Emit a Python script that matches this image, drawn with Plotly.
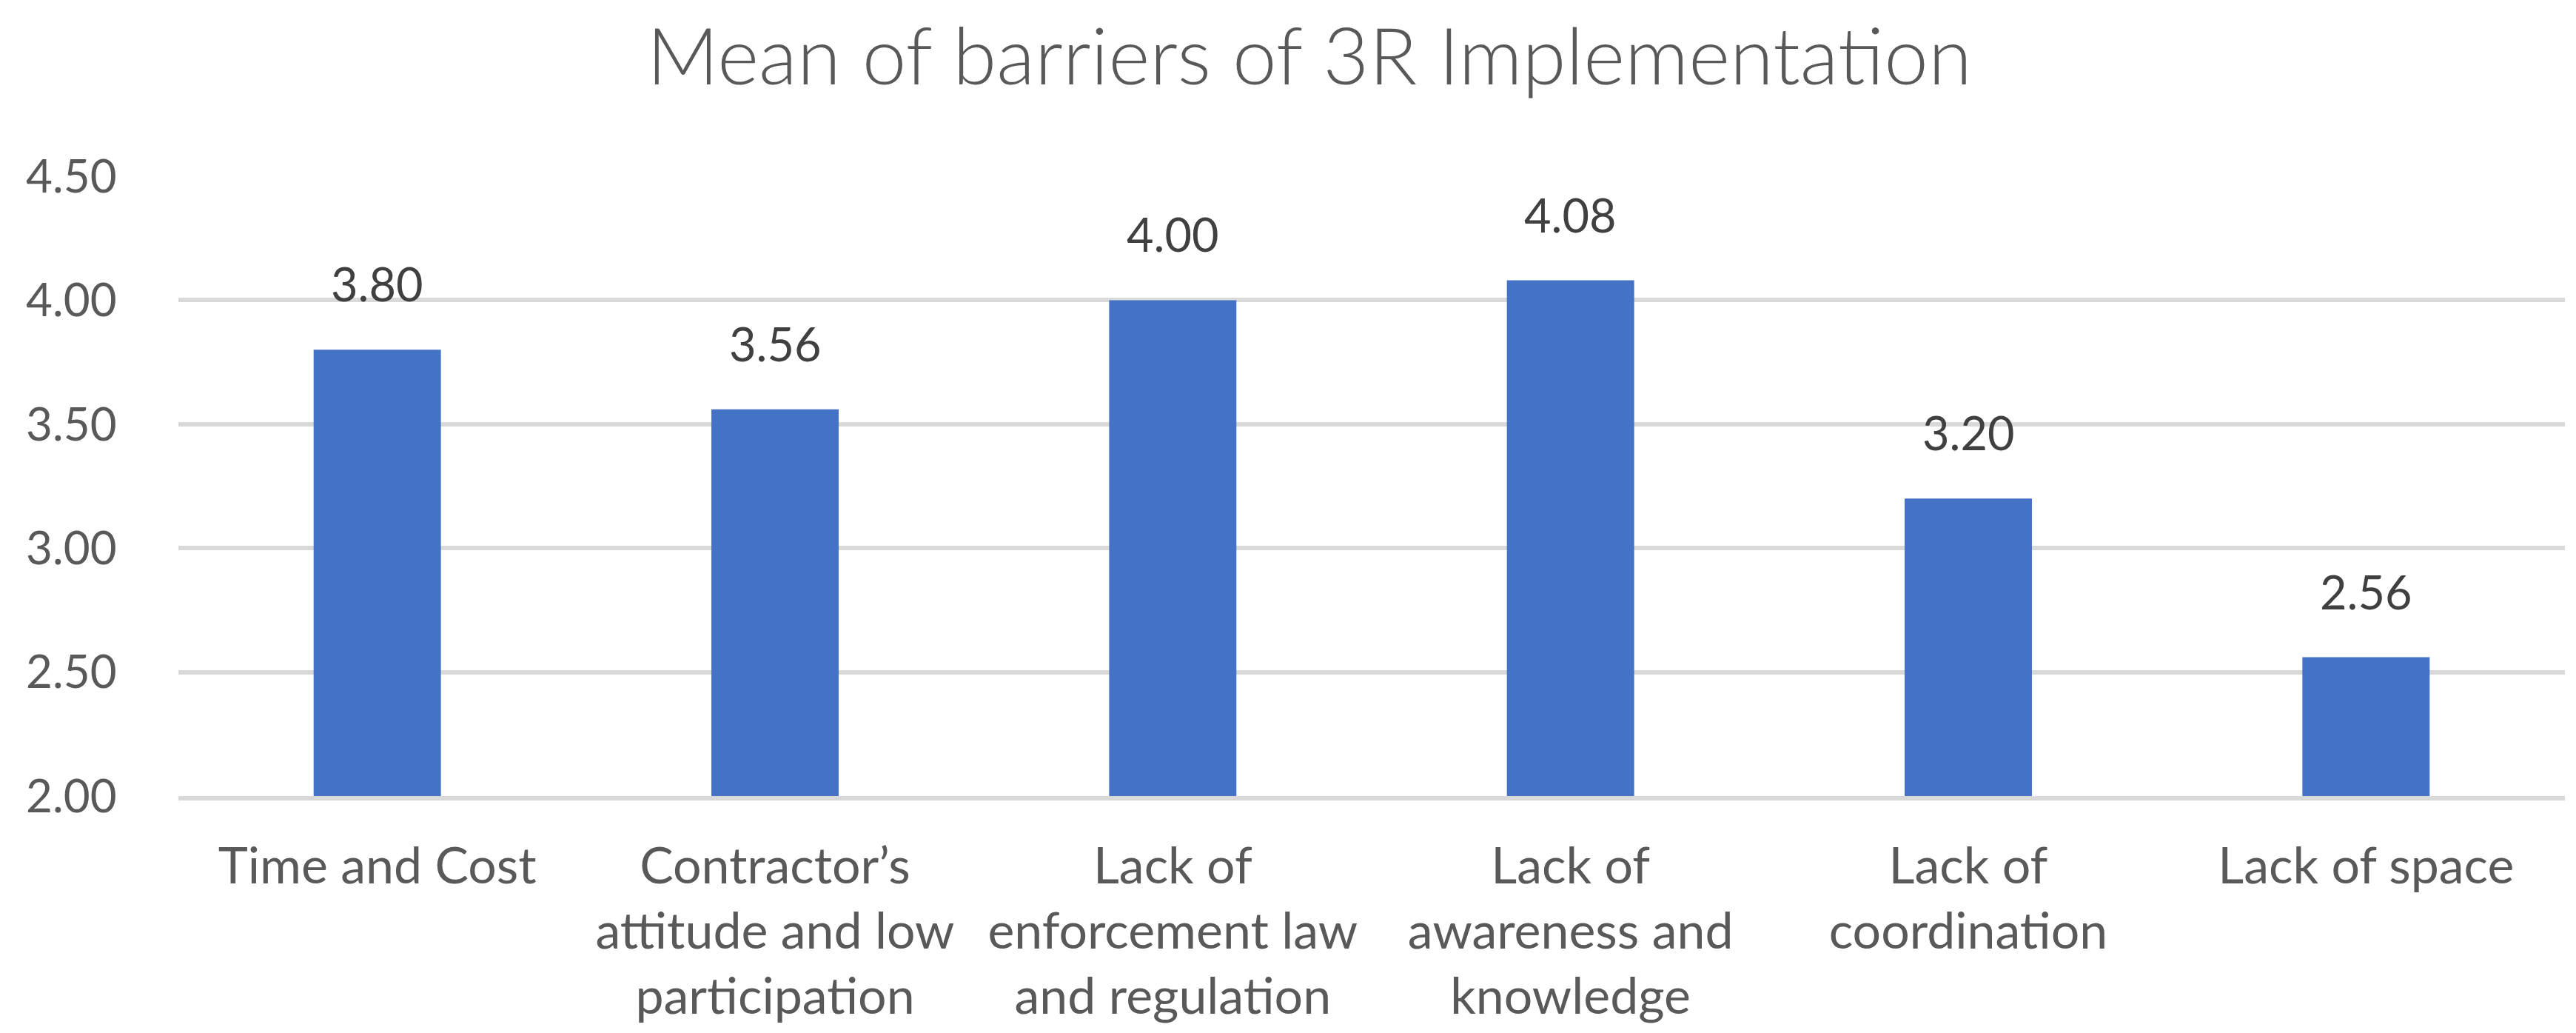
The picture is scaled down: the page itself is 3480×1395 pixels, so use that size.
import plotly.graph_objects as go

categories = [
    "Time and Cost",
    "Contractor’s<br>attitude and low<br>participation",
    "Lack of<br>enforcement law<br>and regulation",
    "Lack of<br>awareness and<br>knowledge",
    "Lack of<br>coordination",
    "Lack of space",
]
values = [3.80, 3.56, 4.00, 4.08, 3.20, 2.56]
y_ticks = [2.0, 2.5, 3.0, 3.5, 4.0, 4.5]
y_tick_labels = ["2.00", "2.50", "3.00", "3.50", "4.00", "4.50"]
title_text = "Mean of barriers of 3R Implementation"

FONT = "Lato"
AXIS_COLOR = "#595959"
LABEL_COLOR = "#404040"

fig = go.Figure()
fig.add_trace(go.Bar(
    x=categories,
    y=values,
    marker=dict(color="#4472C4", line=dict(width=0)),
    hoverinfo="skip",
))

for c, v in zip(categories, values):
    fig.add_annotation(
        x=c, y=v, text=f"{v:.2f}", showarrow=False,
        xanchor="center", yanchor="bottom", yshift=50,
        font=dict(family=FONT, size=63, color=LABEL_COLOR),
    )

fig.update_layout(
    width=3480, height=1395,
    paper_bgcolor="white", plot_bgcolor="white",
    margin=dict(l=233, r=23, t=230, b=328),
    bargap=0.68,
    showlegend=False,
    title=dict(
        text=title_text,
        x=0.506, xanchor="center",
        y=1 - 106 / 1395, yanchor="bottom",
        font=dict(family=FONT, size=107, color=AXIS_COLOR, weight=300),
    ),
    xaxis=dict(
        showgrid=False,
        showline=True, linecolor="#D9D9D9", linewidth=6,
        ticks="outside", ticklen=30, tickcolor="rgba(0,0,0,0)",
        tickfont=dict(family=FONT, size=68, color=AXIS_COLOR),
    ),
    yaxis=dict(
        range=[2.0, 4.5],
        tickvals=y_ticks, ticktext=y_tick_labels,
        showgrid=True, gridcolor="#D9D9D9", gridwidth=6,
        zeroline=False, showline=False,
        ticks="outside", ticklen=70, tickcolor="rgba(0,0,0,0)",
        tickfont=dict(family=FONT, size=62, color=AXIS_COLOR),
    ),
)

fig.write_html("out.html")
